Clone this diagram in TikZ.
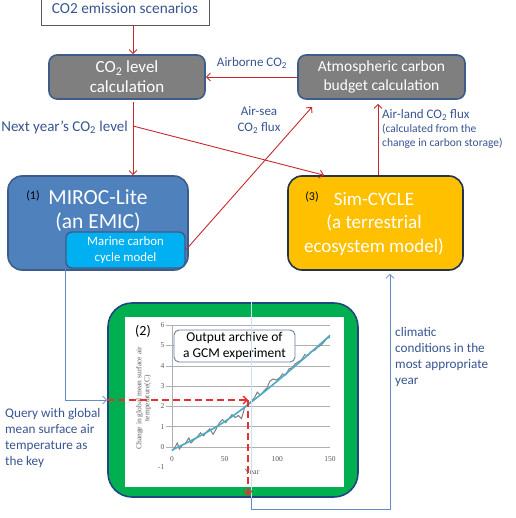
\documentclass[tikz,border=0pt]{standalone}
\usepackage{fontspec}
\setmainfont{Carlito}
\newfontfamily\chartfont{Liberation Serif}
\usetikzlibrary{arrows.meta,calc}
\definecolor{redc}{RGB}{200,40,45}
\definecolor{dashred}{RGB}{228,50,50}
\definecolor{lblc}{RGB}{55,85,145}
\definecolor{grayfill}{RGB}{127,127,127}
\definecolor{boxbd}{RGB}{62,92,138}
\definecolor{mirocf}{RGB}{79,129,189}
\definecolor{marinef}{RGB}{0,176,240}
\definecolor{simf}{RGB}{255,192,0}
\definecolor{greenf}{RGB}{0,176,80}
\definecolor{greenbd}{RGB}{31,73,125}
\definecolor{bluec}{RGB}{100,140,200}
\definecolor{palec}{RGB}{205,225,245}
\definecolor{trendc}{RGB}{75,172,198}
\definecolor{gridc}{RGB}{175,175,175}
\definecolor{ticktxt}{RGB}{90,90,90}
\tikzset{
  redarr/.style={draw=redc, line width=0.9pt, -{Straight Barb[length=4pt,width=8pt]}},
  dasharr/.style={draw=dashred, line width=1.3pt, dash pattern=on 7pt off 4pt, -{Straight Barb[length=4pt,width=8pt]}},
  bluearr/.style={draw=bluec, line width=0.8pt, -{Straight Barb[length=4pt,width=8pt]}},
  bluepath/.style={draw=bluec, line width=0.8pt},
  paleline/.style={draw=palec, line width=0.8pt},
  graybox/.style={draw=boxbd, line width=1.6pt, fill=grayfill, rounded corners=8pt, inner sep=0pt, align=center, text=white},
  bigbox/.style={draw=boxbd, line width=1.6pt, rounded corners=14pt, inner sep=0pt, align=center, text=white},
  lbl/.style={text=lblc, inner sep=0pt, align=left},
  ticklbl/.style={text=ticktxt, inner sep=0pt, font=\chartfont\fontsize{7.5}{8}\selectfont},
}
\begin{document}
\begin{tikzpicture}[x=1pt,y=-1pt]
\useasboundingbox (0,0) rectangle (515,518);

% top box
\node[draw=black!65, line width=0.8pt, fill=white, minimum width=168pt, minimum height=34pt, inner sep=0pt, text=lblc, font=\fontsize{15.3}{17}\selectfont] (top) at (125,8) {CO2 emission scenarios};

% gray boxes
\node[graybox, minimum width=156pt, minimum height=44pt, font=\fontsize{17}{20}\selectfont] (lev) at (127,77) {CO\textsubscript{2} level\\calculation};
\node[graybox, minimum width=167pt, minimum height=44pt, font=\fontsize{15.5}{18.5}\selectfont] (atm) at (381.5,77) {Atmospheric carbon\\budget calculation};

% model boxes
\node[bigbox, fill=mirocf, minimum width=180pt, minimum height=94pt] (miroc) at (98,223) {};
\node[text=white, inner sep=0pt, align=center, font=\fontsize{21.5}{24}\selectfont] (mirt) at (98,210.5) {MIROC-Lite\\(an EMIC)};
\node[inner sep=0pt, font=\fontsize{12}{14}\selectfont] (n1) at (33,196) {(1)};
\node[draw=boxbd, line width=1.4pt, fill=marinef, rounded corners=6pt, minimum width=119pt, minimum height=36pt, inner sep=0pt, align=center, text=white, font=\fontsize{12.8}{16}\selectfont] (marine) at (125.5,250) {Marine carbon\\cycle model};

\node[bigbox, draw=black!45!boxbd, fill=simf, minimum width=175pt, minimum height=94pt] (sim) at (375.5,223) {};
\node[text=white, inner sep=0pt, align=center, font=\fontsize{19}{23.5}\selectfont] (simt) at (374,223.5) {Sim-CYCLE\\(a terrestrial\\ecosystem model)};
\node[inner sep=0pt, font=\fontsize{12}{14}\selectfont] (n3) at (312,197) {(3)};

% green archive box
\node[draw=greenbd, line width=1.6pt, fill=greenf, rounded corners=24pt, minimum width=250pt, minimum height=194pt, inner sep=0pt] (green) at (233,400) {};
\node[fill=white, minimum width=219pt, minimum height=170pt, inner sep=0pt] (inner) at (234.5,402) {};

% chart
\begin{scope}[shift={(172,447)}, x=1.0533pt, y=20.3pt]
  \foreach \t in {1,...,6} \draw[gridc, line width=0.6pt] (-6,\t) -- (150,\t);
  \draw[gridc, line width=0.6pt] (0,0) -- (0,6);
  \draw[gridc, line width=0.6pt] (-6,0) -- (150,0);
  \foreach \t in {-1,...,6} \node[ticklbl, anchor=east] (yl\t) at (-7,\t) {\t};
  \foreach \yr in {0,50,100,150} \node[ticklbl] (xl\yr) at (\yr,-0.6) {\yr};
  \node[ticklbl, font=\chartfont\fontsize{8}{9}\selectfont] (yr) at (76,-1.25) {Year};
  \node[ticklbl, rotate=90, align=center, font=\chartfont\fontsize{7.5}{8}\selectfont] (ytitle) at (-27,2.4) {Change in global mean surface air\\temperature(C)};
  \draw[black!50, line width=1pt] plot coordinates {(0,-0.2) (3,0.0) (5,0.2) (7,-0.1) (10,0.1) (13,0.2) (16,0.45) (18,0.2) (21,0.35) (24,0.5) (27,0.7) (30,0.55) (33,0.75) (36,0.9) (39,0.62) (42,0.9) (45,1.2) (48,1.35) (51,1.2) (54,1.4) (57,1.6) (60,1.45) (63,1.55) (66,1.4) (69,1.95) (72,2.1) (75,2.25) (78,2.4) (81,2.7) (84,2.55) (87,2.75) (90,2.9) (93,3.25) (96,3.35) (99,3.3) (102,3.4) (105,3.6) (108,3.55) (111,3.85) (114,3.9) (117,4.1) (120,4.2) (123,4.3) (126,4.55) (129,4.5) (132,4.7) (135,4.75) (138,4.9) (141,5.0) (144,5.15) (147,5.35) (150,5.4)};
  \draw[trendc, line width=1.6pt] plot[smooth] coordinates {(0,-0.15) (25,0.5) (50,1.25) (75,2.2) (100,3.25) (125,4.35) (150,5.5)};
\end{scope}
\node[inner sep=0pt, font=\fontsize{14}{16}\selectfont] (n2) at (143,331) {(2)};
\node[draw=boxbd!80, line width=0.9pt, fill=white, rounded corners=5pt, minimum width=121pt, minimum height=32pt, inner sep=0pt, align=center, font=\fontsize{13.5}{16}\selectfont] (gcm) at (234.5,346) {Output archive of\\a GCM experiment};

% coordinates
\coordinate (ax) at (133,0);
\coordinate (nx) at (133,126);
\coordinate (sx) at (324,0);
\coordinate (lx) at (378,0);
\coordinate (asend) at (312,107);
\coordinate (q) at (248,400);
\coordinate (cb) at (251,509);
\coordinate (cx) at (390,0);
\coordinate (mx) at (65,0);

% red connectors
\draw[redarr] (top.south -| ax) -- (lev.north -| ax);
\draw[redarr] (atm.west) -- (lev.east);
\draw[redarr, shorten <=2pt] (lev.south -| ax) -- (miroc.north -| ax);
\draw[redarr] (nx) -- (sim.north -| sx);
\draw[redarr] (marine.east) -- (asend);
\draw[redarr, shorten >=4pt] (sim.north -| lx) -- (atm.south -| lx);

% blue connectors
\draw[bluearr] (marine.south -| mx) |- (green.west);
\draw[paleline] (green.north -| cb) -- (green.south -| cb);
\draw[bluearr, shorten >=3pt] (green.south -| cb) -- (cb) -| (sim.south -| cx);

% red dashed query
\draw[dasharr] (green.west |- q) -- (q);
\draw[dasharr, shorten >=2pt] (q) -- (green.south -| q);

% labels
\node[lbl, font=\fontsize{13}{15}\selectfont] (airb) at (252,63) {Airborne CO\textsubscript{2}};
\node[lbl, align=center, font=\fontsize{13}{16}\selectfont] (airsea) at (259,120) {Air-sea\\CO\textsubscript{2} flux};
\node[lbl, anchor=north west, font=\fontsize{13}{15}\selectfont] (airland) at (382,109) {Air-land CO\textsubscript{2} flux};
\node[lbl, anchor=north west, font=\fontsize{11.5}{14}\selectfont] (calc) at (382,124) {(calculated from the\\change in carbon storage)};
\node[lbl, anchor=east, font=\fontsize{15}{16}\selectfont] (next) at (128,127) {Next year’s CO\textsubscript{2} level};
\node[lbl, anchor=north west, font=\fontsize{13.2}{16}\selectfont] (clim) at (395,327) {climatic\\conditions in the\\most appropriate\\year};
\node[lbl, anchor=north west, font=\fontsize{13.2}{16}\selectfont] (query) at (5,408) {Query with global\\mean surface air\\temperature as\\the key};
\end{tikzpicture}
\end{document}
